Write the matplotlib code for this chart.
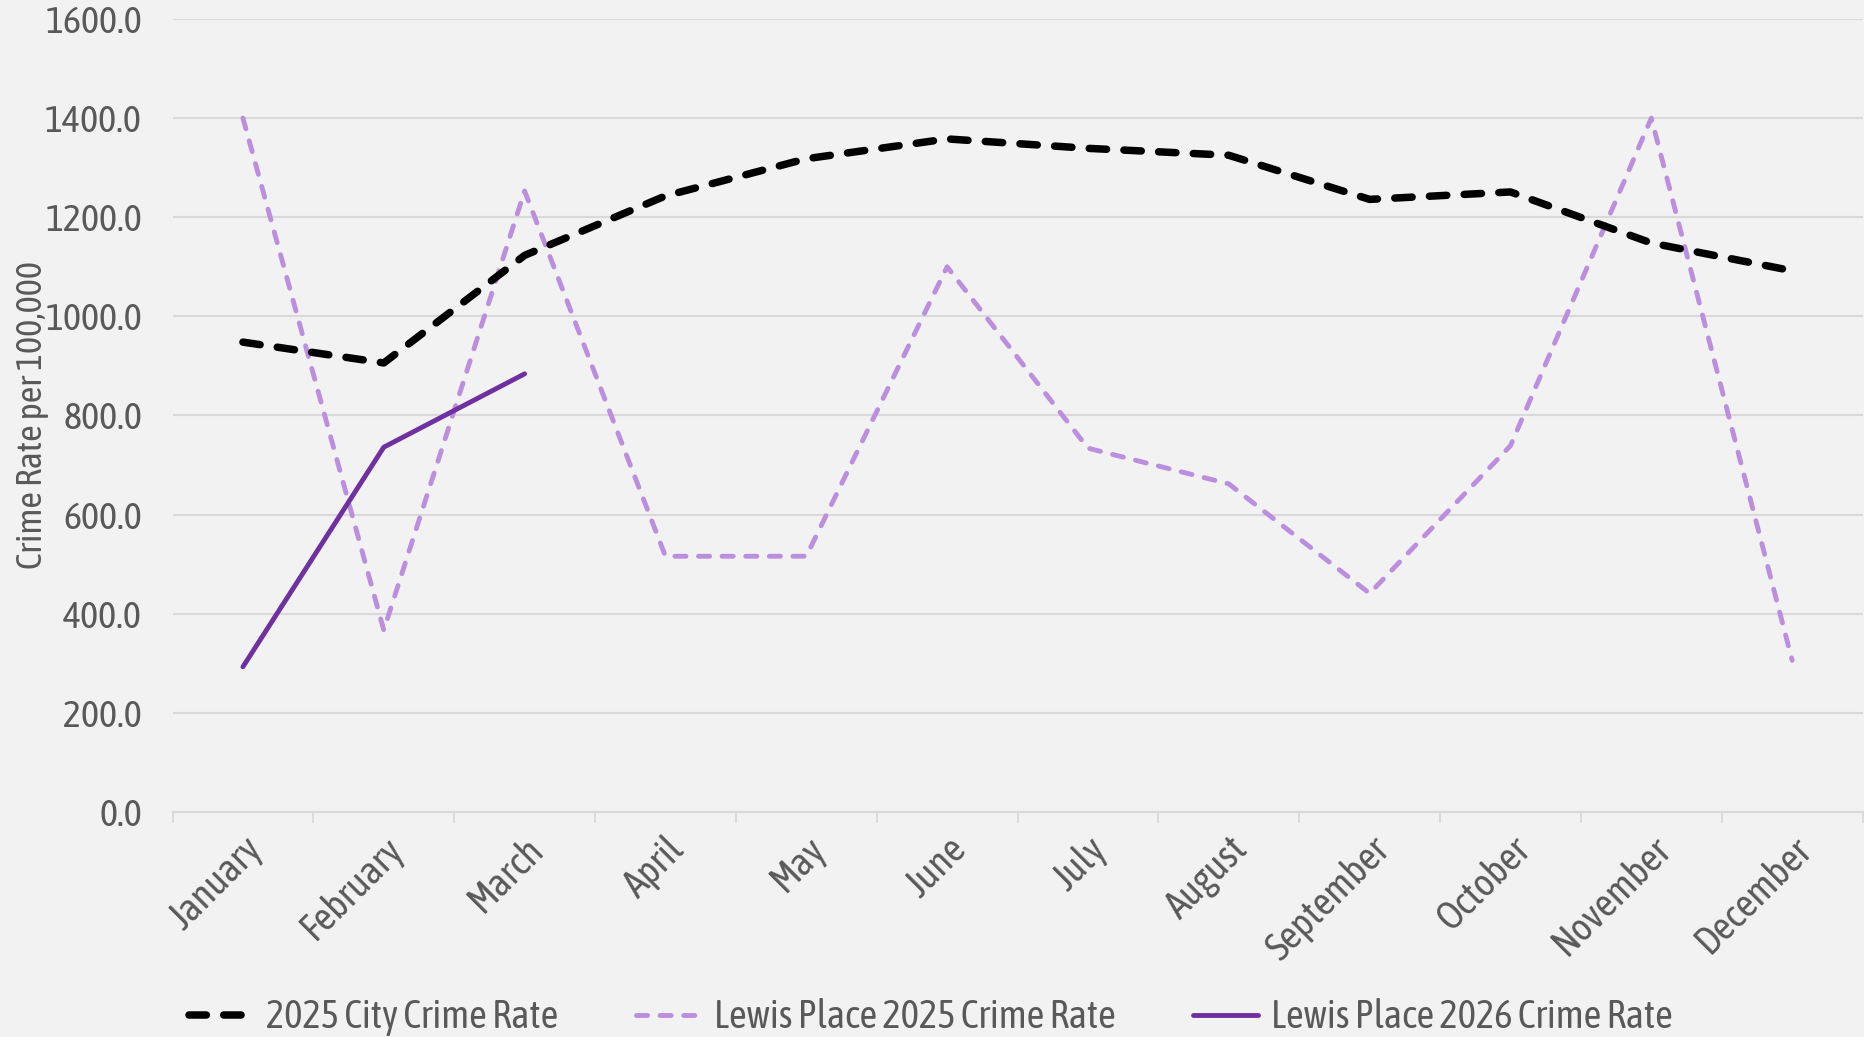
import matplotlib
matplotlib.use("Agg")
import matplotlib.pyplot as plt
from matplotlib import font_manager as fm
from matplotlib.ticker import FixedLocator, NullFormatter

months = ["January", "February", "March", "April", "May", "June", "July",
          "August", "September", "October", "November", "December"]
city_2025 = [948, 906, 1123, 1243, 1318, 1358, 1339, 1325, 1236, 1251, 1148, 1092]
lewis_2025 = [1400, 367, 1253, 516, 516, 1100, 734, 662, 441, 739, 1400, 306]
lewis_2026 = [293, 736, 884]
y_ticks = [0, 200, 400, 600, 800, 1000, 1200, 1400, 1600]

# pick a condensed sans font if one is installed (reference uses a DIN-like face)
entries = fm.fontManager.ttflist
family = None
stretch = "normal"
for e in entries:
    if "Condensed" in e.name and e.style == "normal" and e.weight in (400, "normal", "regular"):
        family, stretch = e.name, e.stretch
        break
if family is None:
    for e in entries:
        if e.name in ("Roboto", "Noto Sans", "Open Sans") and e.style == "normal" \
                and str(e.stretch) in ("condensed", "semi-condensed", "500", "625", "750") \
                and e.weight in (400, "normal", "regular"):
            family, stretch = e.name, e.stretch
            break
available = {e.name for e in entries}
fams = ([family] if family else []) + [f for f in ["Roboto", "DejaVu Sans"] if f in available]
plt.rcParams["font.family"] = fams
plt.rcParams["font.stretch"] = stretch
plt.rcParams["lines.scale_dashes"] = False

BG = "#F2F2F2"
TXT = "#595959"
GRID = "#D9D9D9"
condensed = family is not None
FS = 28 if condensed else 24

fig = plt.figure(figsize=(18.65, 10.37), dpi=100, facecolor=BG)
ax = fig.add_axes([0.0925, 0.217, 0.9062, 0.7647], facecolor=BG)

x = list(range(len(months)))
ax.plot(x, city_2025, color="black", lw=5.4, dashes=(12.5, 12.5),
        dash_capstyle="round", solid_joinstyle="round", label="2025 City Crime Rate", zorder=3)
ax.plot(x, lewis_2025, color="#BB8EDE", lw=3.5, dashes=(8.0, 9.0),
        dash_capstyle="round", label="Lewis Place 2025 Crime Rate", zorder=2)
ax.plot(x[:len(lewis_2026)], lewis_2026, color="#7030A0", lw=3.5,
        solid_capstyle="round", label="Lewis Place 2026 Crime Rate", zorder=4)

ax.set_xlim(-0.5, len(months) - 0.5)
ax.set_ylim(0, 1600)
ax.set_yticks(y_ticks)
ax.set_yticklabels([f"{v:.1f}" for v in y_ticks])
ax.set_xticks(x)
ax.set_xticklabels(months, rotation=45, ha="right", rotation_mode="anchor")
ax.xaxis.set_minor_locator(FixedLocator([i - 0.5 for i in range(len(months) + 1)]))
ax.xaxis.set_minor_formatter(NullFormatter())
ax.tick_params(axis="x", which="major", length=0, pad=13, labelsize=FS, labelcolor=TXT)
ax.tick_params(axis="x", which="minor", length=8, width=1.3, color=GRID)
ax.tick_params(axis="y", length=0, pad=22, labelsize=FS - 0.5, labelcolor=TXT)

ax.grid(axis="y", color=GRID, lw=1.5)
ax.set_axisbelow(True)
for s in ["top", "right", "left"]:
    ax.spines[s].set_visible(False)
ax.spines["bottom"].set_color(GRID)
ax.spines["bottom"].set_linewidth(1.5)

ax.set_ylabel("Crime Rate per 100,000", fontsize=FS - 2, color=TXT)
ax.yaxis.set_label_coords(-0.073, 0.5)

leg = fig.legend(loc="center", bbox_to_anchor=(0.499, 0.019), ncol=3, frameon=False,
                 fontsize=FS, labelcolor=TXT, handlelength=1.67, handletextpad=0.32,
                 columnspacing=2.0)

fig.savefig("out.png", dpi=100, facecolor=BG)
